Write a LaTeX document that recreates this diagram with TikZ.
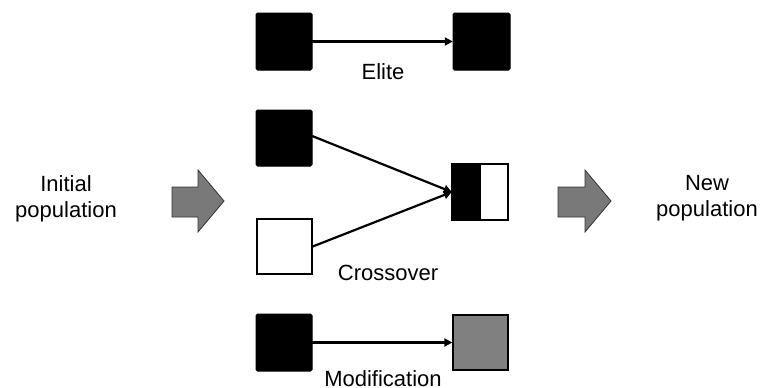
\documentclass[tikz,border=0pt]{standalone}
\usepackage{fontspec}
\setmainfont{Liberation Sans}
\usetikzlibrary{arrows.meta}
\begin{document}
\begin{tikzpicture}[x=1pt,y=-1pt,
  blk/.style={fill=black,draw=black,line width=1pt,rounded corners=1.5pt},
  wht/.style={fill=white,draw=black,line width=2pt},
  gry/.style={fill=gray,draw=black,line width=2pt},
  conn/.style={line width=2.2pt,-{Triangle[length=8pt,width=8pt]}},
  lbl/.style={font=\fontsize{22}{26}\selectfont,align=center,inner sep=0pt},
  bigarr/.style={fill=gray!95!black,draw=black!80,line width=0.8pt}]
\useasboundingbox (0,0) rectangle (760,388);
% Elite
\path[blk] (256,13) rectangle (312,70);
\node[inner sep=0pt,minimum width=56pt,minimum height=57pt] (e1) at (284,41.5) {};
\path[blk] (453,13) rectangle (510,70);
\node[inner sep=0pt,minimum width=57pt,minimum height=57pt] (e2) at (481.5,41.5) {};
\draw[conn] (e1.east) -- (e2.west);
\node[lbl] (elite) at (383,72) {Elite};
% Crossover
\path[blk] (256,110) rectangle (312,166);
\node[inner sep=0pt,minimum width=56pt,minimum height=56pt] (c1) at (284,138) {};
\path[wht] (257,219) rectangle (312,274);
\node[inner sep=0pt,minimum width=56pt,minimum height=56pt] (c2) at (284.5,246.5) {};
\path[fill=black] (452,164) rectangle (481,220);
\path[draw=black,line width=2pt] (452,164) rectangle (508,220);
\node[inner sep=0pt,minimum width=56pt,minimum height=56pt] (c3) at (480,192) {};
\draw[conn] (c1.east) ++(0,-2) coordinate (c1a) (c1a) -- (c3.west);
\draw[conn] (c2.east) -- (c3.west);
\node[lbl] (cross) at (388,273) {Crossover};
% Modification
\path[blk] (256,314) rectangle (312,371);
\node[inner sep=0pt,minimum width=56pt,minimum height=57pt] (m1) at (284,342.5) {};
\path[gry] (453,315) rectangle (508,370);
\node[inner sep=0pt,minimum width=56pt,minimum height=56pt] (m2) at (480.5,342.5) {};
\draw[conn] (m1.east) -- (m2.west);
\node[lbl] (mod) at (383,379) {Modification};
% Big arrows
\draw[bigarr] (172,187) -- (198,187) -- (198,170) -- (224,201) -- (198,232) -- (198,217) -- (172,217) -- cycle;
\draw[bigarr] (558,187) -- (585,187) -- (585,170) -- (611,201) -- (585,232) -- (585,217) -- (558,217) -- cycle;
\node[lbl] (init) at (66,199) {Initial\\population};
\node[lbl] (new) at (707,198) {New\\population};
\end{tikzpicture}
\end{document}
